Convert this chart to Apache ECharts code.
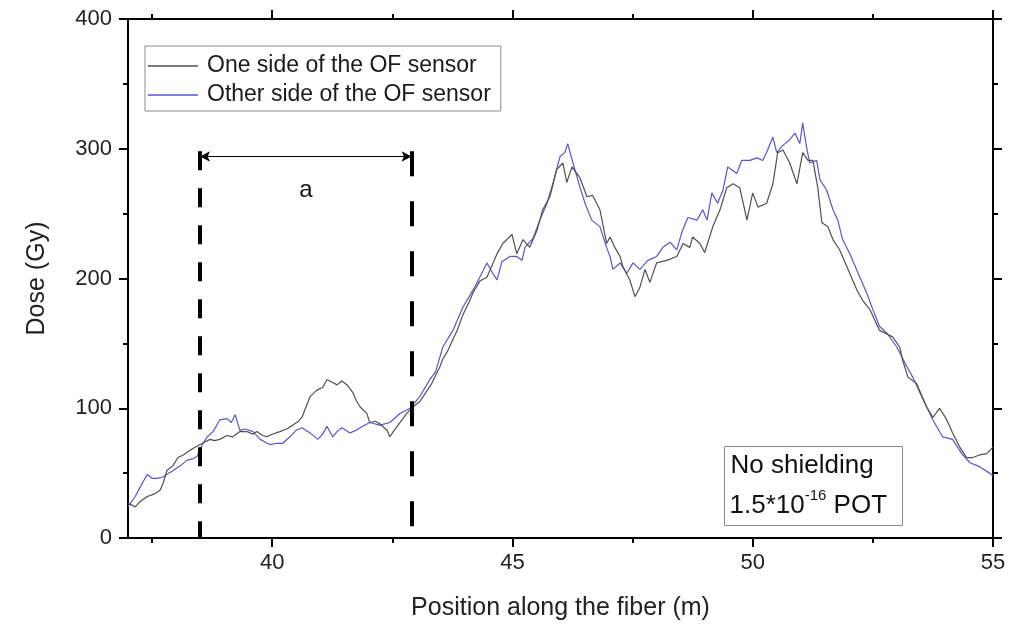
<!DOCTYPE html>
<html>
<head>
<meta charset="utf-8">
<script src="https://cdn.jsdelivr.net/npm/echarts@6/dist/echarts.min.js"></script>
<style>
  html, body { margin: 0; padding: 0; background: #fff; }
  #chart { width: 1009px; height: 626px; }
</style>
</head>
<body>
<div id="chart"></div>
<script>
// Dose profile along the fiber, measured on both sides of the OF sensor
const seriesNames = ['One side of the OF sensor', 'Other side of the OF sensor'];

const positionOne = [37.00, 37.15, 37.25, 37.40, 37.55, 37.67, 37.73, 37.81, 37.94, 38.04, 38.15, 38.23, 38.35, 38.50, 38.60, 38.71, 38.80, 38.91, 39.06, 39.18, 39.33, 39.48, 39.60, 39.68, 39.80, 39.89, 40.00, 40.16, 40.30, 40.43, 40.55, 40.62, 40.79, 40.93, 41.05, 41.14, 41.25, 41.35, 41.45, 41.56, 41.68, 41.75, 41.83, 41.97, 42.03, 42.15, 42.24, 42.39, 42.45, 42.52, 42.60, 42.80, 42.93, 43.07, 43.14, 43.32, 43.49, 43.55, 43.65, 43.76, 43.85, 43.97, 44.10, 44.18, 44.32, 44.47, 44.55, 44.68, 44.80, 44.99, 45.09, 45.22, 45.36, 45.51, 45.63, 45.78, 45.92, 46.05, 46.13, 46.24, 46.40, 46.55, 46.67, 46.82, 46.96, 47.03, 47.13, 47.24, 47.30, 47.44, 47.55, 47.65, 47.76, 47.86, 48.00, 48.21, 48.42, 48.55, 48.69, 48.75, 48.90, 49.00, 49.17, 49.32, 49.46, 49.59, 49.73, 49.88, 50.00, 50.11, 50.29, 50.42, 50.52, 50.63, 50.77, 50.92, 51.04, 51.15, 51.25, 51.35, 51.44, 51.56, 51.67, 51.81, 51.96, 52.17, 52.29, 52.44, 52.64, 52.91, 53.06, 53.12, 53.23, 53.41, 53.62, 53.75, 53.89, 54.04, 54.16, 54.31, 54.45, 54.58, 54.72, 54.87, 55.00];
const doseOne = [27, 24, 28, 32, 34, 37, 42, 52, 56, 62, 64, 66, 69, 72, 74, 76, 75, 76, 79, 78, 82, 82, 80, 82, 79, 78, 80, 82, 84, 87, 90, 93, 109, 114, 116, 122, 120, 118, 121, 118, 112, 106, 101, 96, 89, 90, 88, 83, 78, 82, 86, 96, 101, 105, 109, 119, 132, 138, 144, 153, 160, 172, 182, 189, 198, 201, 208, 219, 227, 234, 219, 230, 224, 237, 253, 263, 284, 289, 274, 286, 278, 263, 264, 253, 227, 232, 224, 217, 209, 199, 186, 193, 207, 197, 212, 214, 217, 227, 224, 232, 227, 220, 240, 253, 270, 273, 270, 245, 266, 255, 258, 273, 297, 299, 289, 273, 297, 291, 291, 271, 243, 240, 230, 222, 209, 191, 183, 176, 160, 155, 147, 137, 124, 119, 101, 93, 100, 91, 81, 70, 62, 62, 64, 65, 70];

const positionOther = [37.00, 37.15, 37.25, 37.40, 37.50, 37.60, 37.73, 37.85, 37.94, 38.10, 38.23, 38.35, 38.44, 38.56, 38.65, 38.77, 38.91, 39.06, 39.15, 39.23, 39.33, 39.45, 39.60, 39.75, 39.85, 39.95, 40.10, 40.22, 40.37, 40.50, 40.62, 40.79, 40.95, 41.05, 41.14, 41.26, 41.35, 41.45, 41.62, 41.75, 41.83, 42.03, 42.24, 42.45, 42.66, 42.87, 43.07, 43.28, 43.40, 43.55, 43.76, 43.97, 44.18, 44.32, 44.47, 44.59, 44.68, 44.78, 44.95, 45.09, 45.20, 45.26, 45.43, 45.57, 45.72, 45.84, 45.99, 46.09, 46.15, 46.26, 46.40, 46.51, 46.65, 46.82, 46.96, 47.03, 47.09, 47.24, 47.38, 47.51, 47.65, 47.82, 48.00, 48.13, 48.28, 48.42, 48.52, 48.65, 48.84, 48.96, 49.05, 49.15, 49.27, 49.38, 49.48, 49.67, 49.77, 49.94, 50.09, 50.21, 50.31, 50.42, 50.50, 50.61, 50.77, 50.88, 50.98, 51.04, 51.13, 51.19, 51.33, 51.40, 51.54, 51.67, 51.77, 51.87, 52.02, 52.23, 52.37, 52.50, 52.64, 52.79, 53.00, 53.21, 53.33, 53.48, 53.62, 53.75, 53.95, 54.16, 54.35, 54.52, 54.72, 54.93, 55.00];
const doseOther = [24, 32, 39, 49, 46, 46, 47, 50, 52, 56, 60, 61, 63, 73, 78, 82, 91, 92, 89, 95, 83, 84, 82, 76, 74, 72, 73, 73, 78, 83, 85, 81, 76, 80, 86, 78, 82, 85, 81, 83, 85, 89, 87, 89, 96, 100, 109, 122, 128, 147, 160, 178, 191, 201, 212, 204, 199, 213, 217, 217, 214, 224, 231, 245, 258, 273, 294, 297, 304, 289, 271, 258, 245, 240, 224, 217, 207, 212, 204, 212, 207, 214, 217, 224, 228, 222, 235, 247, 245, 253, 245, 266, 258, 268, 286, 281, 291, 291, 293, 291, 299, 309, 297, 302, 307, 312, 304, 320, 299, 289, 291, 276, 268, 253, 245, 230, 219, 201, 189, 176, 163, 158, 147, 132, 124, 112, 101, 91, 78, 76, 65, 58, 55, 50, 48];

// Axis ranges and ticks
const xRange = [37, 55];
const xMajorTicks = [40, 45, 50, 55];
const xMinorTicks = [37.5, 42.5, 47.5, 52.5];
const yRange = [0, 400];
const yStep = 100;

// Interval marked "a" and its dashed bounds
const spanStart = 38.5;
const spanEnd = 42.9;
const spanTop = 298;
const arrowDose = 294;

const FONT = '"Liberation Sans", Arial, sans-serif';

const zip = (xs, ys) => xs.map((x, i) => [x, ys[i]]);

const chart = echarts.init(document.getElementById('chart'), null, { renderer: 'canvas' });

const axisLineStyle = { color: '#000', width: 2 };
const tickLineStyle = { color: '#000', width: 2 };

function xAxisDef(position, ticks, length, withLine, withLabels) {
  return {
    type: 'value', position, min: xRange[0], max: xRange[1],
    axisLine: { show: withLine, onZero: false, lineStyle: axisLineStyle },
    axisTick: { show: true, inside: false, length, customValues: ticks, lineStyle: tickLineStyle },
    axisLabel: withLabels
      ? { show: true, customValues: ticks, margin: 14, fontSize: 22, color: '#222', fontFamily: FONT }
      : { show: false, customValues: ticks },
    splitLine: { show: false },
    name: withLabels ? 'Position along the fiber (m)' : '',
    nameLocation: 'middle', nameGap: 58,
    nameTextStyle: { fontSize: 25, color: '#222', fontFamily: FONT }
  };
}

function yAxisDef(position, withLabels) {
  return {
    type: 'value', position, min: yRange[0], max: yRange[1], interval: yStep,
    axisLine: { show: true, onZero: false, lineStyle: axisLineStyle },
    axisTick: { show: true, inside: false, length: 9, lineStyle: tickLineStyle },
    minorTick: { show: true, splitNumber: 2, length: 5, lineStyle: tickLineStyle },
    axisLabel: { show: withLabels, margin: 16, fontSize: 22, color: '#222', fontFamily: FONT },
    splitLine: { show: false },
    name: withLabels ? 'Dose (Gy)' : '',
    nameLocation: 'middle', nameGap: 78,
    nameTextStyle: { fontSize: 25, color: '#222', fontFamily: FONT }
  };
}

const option = {
  animation: false,
  backgroundColor: '#fff',
  grid: { left: 128, right: 16, top: 19, bottom: 88, containLabel: false },
  xAxis: [
    xAxisDef('bottom', xMajorTicks, 9, true, true),
    xAxisDef('bottom', xMinorTicks, 5, false, false),
    xAxisDef('top', xMajorTicks, 9, true, false),
    xAxisDef('top', xMinorTicks, 5, false, false)
  ],
  yAxis: [yAxisDef('left', true), yAxisDef('right', false)],
  legend: {
    orient: 'vertical', left: 145, top: 46,
    data: seriesNames,
    icon: 'rect',
    itemWidth: 50, itemHeight: 1.5, itemGap: 5,
    padding: [8, 10, 4, 3],
    borderColor: '#8a8a8a', borderWidth: 1,
    textStyle: { fontSize: 23, lineHeight: 24, color: '#1a1a1a', fontFamily: FONT, padding: [0, 0, 0, 4] }
  },
  series: [
    {
      name: seriesNames[0], type: 'line', xAxisIndex: 0, yAxisIndex: 0,
      data: zip(positionOne, doseOne), symbol: 'none',
      lineStyle: { color: '#505050', width: 1.2 }, itemStyle: { color: '#505050' },
      z: 3,
      markLine: {
        silent: true, animation: false,
        symbol: ['none', 'none'],
        label: { show: false },
        data: [
          [{ coord: [spanStart, spanTop], lineStyle: { type: [19, 18], width: 4, color: '#000' } },
           { coord: [spanStart, 0] }],
          [{ coord: [spanEnd, spanTop], lineStyle: { type: [25, 25], width: 4, color: '#000' } },
           { coord: [spanEnd, 0] }],
          [{ coord: [spanStart, arrowDose], symbol: 'arrow', symbolSize: [8, 10],
             lineStyle: { type: 'solid', width: 1, color: '#000' },
             label: { show: true, formatter: 'a', position: 'insideMiddleBottom', distance: 22,
                      fontSize: 24, color: '#111', fontFamily: FONT } },
           { coord: [spanEnd, arrowDose], symbol: 'arrow', symbolSize: [8, 10] }]
        ]
      }
    },
    {
      name: seriesNames[1], type: 'line', xAxisIndex: 0, yAxisIndex: 0,
      data: zip(positionOther, doseOther), symbol: 'none',
      lineStyle: { color: '#5656d4', width: 1.2 }, itemStyle: { color: '#5656d4' },
      z: 2
    }
  ],
  graphic: [
    {
      type: 'group', left: 724, top: 446,
      children: [
        { type: 'rect', shape: { x: 0, y: 0, width: 178, height: 79 },
          style: { fill: '#fff', stroke: '#8a8a8a', lineWidth: 1 } },
        { type: 'text', x: 6, y: 6,
          style: { text: 'No shielding', fontSize: 26, fill: '#111', fontFamily: FONT } },
        { type: 'text', x: 5, y: 42,
          style: {
            text: '{n|1.5*10}{s|-16}{n| POT}',
            rich: {
              n: { fontSize: 26, fill: '#111', fontFamily: FONT, lineHeight: 30, verticalAlign: 'bottom' },
              s: { fontSize: 15, fill: '#111', fontFamily: FONT, lineHeight: 30, verticalAlign: 'top' }
            }
          } }
      ]
    }
  ]
};

chart.setOption(option);
</script>
</body>
</html>
